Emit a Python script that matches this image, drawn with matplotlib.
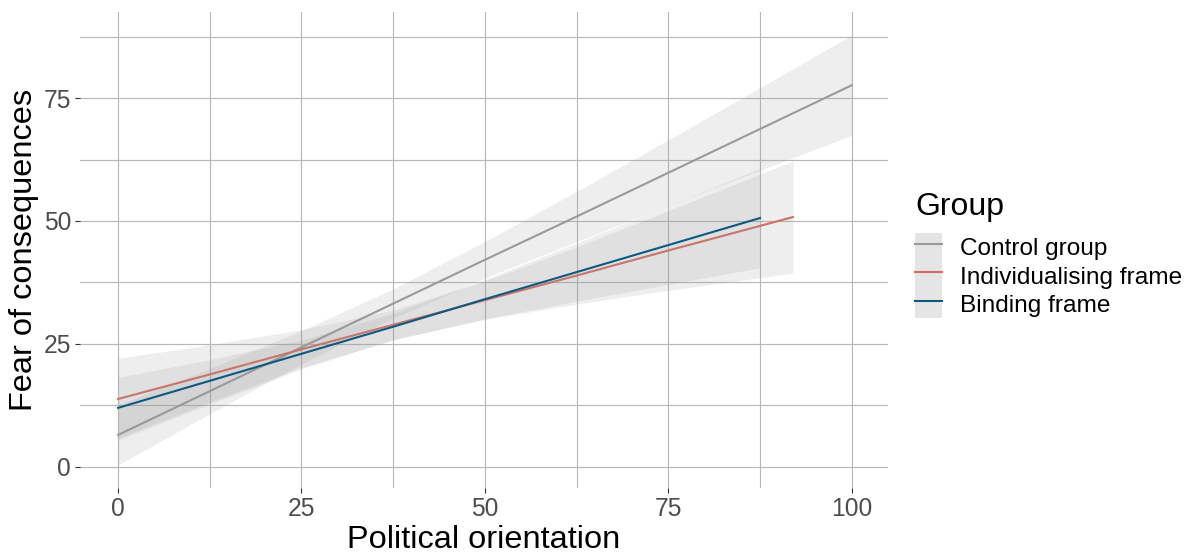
import numpy as np
import matplotlib
matplotlib.use("Agg")
import matplotlib.pyplot as plt
from matplotlib.patches import Patch
from matplotlib.lines import Line2D

plt.rcParams['font.family'] = ['Liberation Sans', 'DejaVu Sans']

# fitted lines (lm) and confidence bands
groups = ['Control group', 'Individualising frame', 'Binding frame']
colors = ['#9a9a9a', '#d07062', '#0d5a80']

ctrl_x = [0, 12.5, 25, 37.5, 50, 62.5, 75, 87.5, 100]
ctrl_y = [6.5, 15.4, 24.3, 33.2, 42.1, 50.9, 59.8, 68.7, 77.6]
ctrl_lo = [0.4, 10.8, 20.9, 30.2, 38.4, 45.8, 53.1, 60.3, 67.4]
ctrl_hi = [12.6, 20.0, 27.7, 36.2, 45.8, 56.0, 66.5, 77.1, 87.8]

indiv_x = [0, 12.5, 25, 37.5, 50, 62.5, 75, 92]
indiv_y = [13.8, 18.8, 23.9, 28.9, 33.9, 38.9, 44.0, 50.8]
indiv_lo = [5.5, 12.8, 19.9, 25.9, 30.0, 33.1, 35.9, 39.4]
indiv_hi = [22.1, 24.8, 27.9, 31.9, 37.8, 44.7, 52.1, 62.2]

bind_x = [0, 12.5, 25, 37.5, 50, 62.5, 75, 87.5]
bind_y = [12.0, 17.5, 23.0, 28.5, 34.1, 39.6, 45.1, 50.6]
bind_lo = [5.8, 13.2, 20.2, 25.8, 30.1, 33.7, 37.1, 40.5]
bind_hi = [18.2, 21.8, 25.8, 31.2, 38.1, 45.5, 53.1, 60.7]

series = [(ctrl_x, ctrl_y, ctrl_lo, ctrl_hi),
          (indiv_x, indiv_y, indiv_lo, indiv_hi),
          (bind_x, bind_y, bind_lo, bind_hi)]

fig = plt.figure(figsize=(11.93, 5.53), dpi=100)
ax = fig.add_axes([0.067, 0.1175, 0.677, 0.8608])

z = 2
for (x, y, lo, hi), c in zip(series, colors):
    ax.fill_between(x, lo, hi, color='#999999', alpha=0.16, lw=0, zorder=z)
    ax.plot(x, y, color=c, lw=1.5, zorder=z + 1)
    z += 2

ax.set_xlim(-5.2, 104.9)
ax.set_ylim(-4.3, 92.5)
ax.set_xticks([0, 25, 50, 75, 100])
ax.set_yticks([0, 25, 50, 75])
ax.set_xticks([12.5, 37.5, 62.5, 87.5], minor=True)
ax.set_yticks([12.5, 37.5, 62.5, 87.5], minor=True)
ax.grid(True, which='both', color='#b8b8b8', lw=0.85, zorder=0)
ax.set_axisbelow(True)
for s in ax.spines.values():
    s.set_visible(False)
ax.tick_params(which='major', length=3.5, width=0.8, color='#333333',
               labelcolor='#4d4d4d', labelsize=17.7, pad=3)
ax.tick_params(which='minor', length=0)

ax.set_xlabel('Political orientation', fontsize=23.4, labelpad=3)
ax.set_ylabel('Fear of consequences', fontsize=23.4, labelpad=3)

handles = []
for c in colors:
    handles.append((Patch(facecolor='#999999', alpha=0.25, lw=0),
                    Line2D([], [], color=c, lw=1.5)))
leg = fig.legend(handles, groups, loc='upper left',
                 bbox_to_anchor=(915 / 1193, 1 - 192 / 553),
                 frameon=False, fontsize=17.6, title='Group',
                 title_fontsize=23, alignment='left',
                 handlelength=1.1, handleheight=1.4, labelspacing=0,
                 handletextpad=0.73, borderpad=0, borderaxespad=0)
leg._legend_box.sep = 8  # gap between title and keys

fig.savefig('out.png', dpi=100)
